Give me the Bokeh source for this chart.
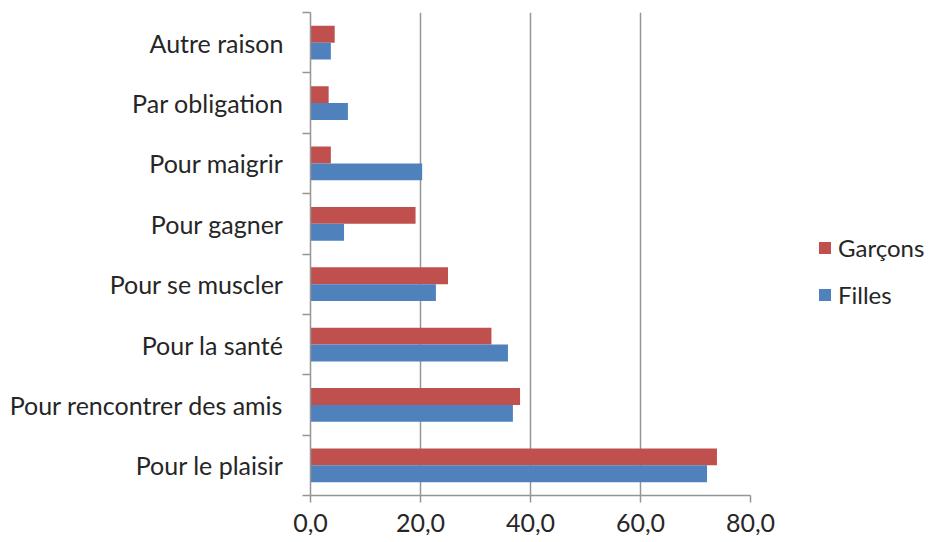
from bokeh.plotting import figure
from bokeh.models import FixedTicker, Legend, LegendItem, Range1d
from bokeh.embed import file_html
from bokeh.resources import INLINE

categories = ["Pour le plaisir", "Pour rencontrer des amis", "Pour la santé",
              "Pour se muscler", "Pour gagner", "Pour maigrir",
              "Par obligation", "Autre raison"]
garcons = [73.9, 38.1, 32.9, 25.0, 19.1, 3.7, 3.3, 4.4]
filles = [72.1, 36.8, 35.9, 22.8, 6.1, 20.3, 6.8, 3.7]
x_ticks = [0, 20, 40, 60, 80]
x_tick_labels = ["0,0", "20,0", "40,0", "60,0", "80,0"]
series_names = ["Garçons", "Filles"]

RED = "#C0504D"
BLUE = "#4F81BD"
GRID = "#959595"
TEXT = "#262626"
FONT = "Lato"

idx = list(range(len(categories)))

p = figure(frame_width=440, frame_height=483,
           x_range=Range1d(0, 80), y_range=Range1d(-0.5, len(categories) - 0.5),
           output_backend="svg", toolbar_location=None,
           min_border_left=310, min_border_top=12, min_border_bottom=40,
           min_border_right=10)
p.outline_line_color = None
p.background_fill_color = "white"
p.border_fill_color = "white"

r_g = p.hbar(y=[i + 0.14 for i in idx], right=garcons, left=0, height=0.28,
             fill_color=RED, line_color=None)
r_f = p.hbar(y=[i - 0.14 for i in idx], right=filles, left=0, height=0.28,
             fill_color=BLUE, line_color=None)

# x axis
p.xaxis.ticker = FixedTicker(ticks=x_ticks)
p.xaxis.major_label_overrides = {t: l for t, l in zip(x_ticks, x_tick_labels)}
p.xaxis.axis_line_color = GRID
p.xaxis.axis_line_width = 1.5
p.xaxis.major_tick_line_color = GRID
p.xaxis.major_tick_line_width = 1.5
p.xaxis.major_tick_in = 0
p.xaxis.major_tick_out = 7
p.xaxis.minor_tick_line_color = None
p.xaxis.major_label_text_font = FONT
p.xaxis.major_label_text_font_size = "25px"
p.xaxis.major_label_text_color = TEXT
p.xaxis.major_label_standoff = 11

# y axis: labels at centers, ticks at boundaries
p.yaxis.ticker = FixedTicker(ticks=idx, minor_ticks=[i - 0.5 for i in idx] + [len(idx) - 0.5])
p.yaxis.major_label_overrides = {i: c for i, c in zip(idx, categories)}
p.yaxis.axis_line_color = GRID
p.yaxis.axis_line_width = 1.5
p.yaxis.major_tick_line_color = None
p.yaxis.major_tick_in = 0
p.yaxis.major_tick_out = 0
p.yaxis.minor_tick_line_color = GRID
p.yaxis.minor_tick_line_width = 1.5
p.yaxis.minor_tick_in = 0
p.yaxis.minor_tick_out = 8
p.yaxis.major_label_text_font = FONT
p.yaxis.major_label_text_font_size = "25px"
p.yaxis.major_label_text_color = TEXT
p.yaxis.major_label_standoff = 19

p.xgrid.ticker = FixedTicker(ticks=x_ticks)
p.xgrid.grid_line_color = GRID
p.xgrid.grid_line_width = 1.5
p.ygrid.grid_line_color = None

legend = Legend(items=[LegendItem(label=series_names[0], renderers=[r_g]),
                       LegendItem(label=series_names[1], renderers=[r_f])],
                location=(67, 186), orientation="vertical")
legend.label_text_font = FONT
legend.label_text_font_size = "24px"
legend.label_text_color = TEXT
legend.glyph_width = 15
legend.glyph_height = 15
legend.label_height = 20
legend.spacing = 18
legend.padding = 0
legend.margin = 0
legend.border_line_color = None
legend.background_fill_alpha = 0
legend.label_standoff = 6
p.add_layout(legend, "right")

open("out.html", "w").write(file_html(p, INLINE))
